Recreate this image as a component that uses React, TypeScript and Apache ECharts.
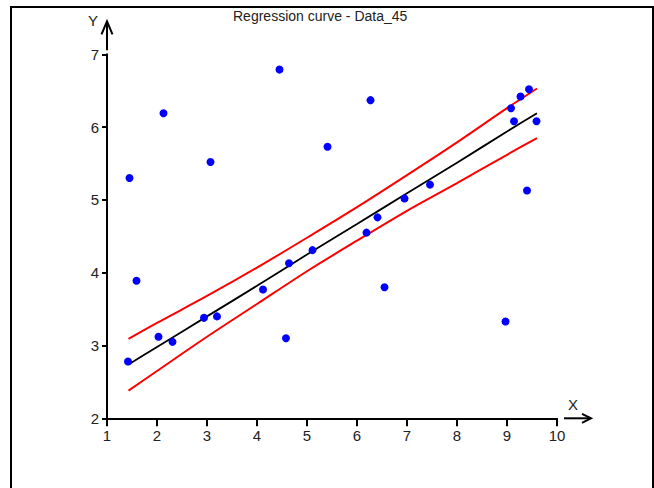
import React, { useEffect, useRef } from "react";
import * as echarts from "echarts";

const titleText = "Regression curve - Data_45";
const xName = "X";
const yName = "Y";

// Observed points
const pointX = [1.42, 1.45, 1.59, 2.03, 2.13, 2.31, 2.94, 3.07, 3.2, 4.12, 4.45, 4.58, 4.64, 5.11, 5.41, 6.19, 6.27, 6.41, 6.55, 6.95, 7.46, 8.97, 9.08, 9.14, 9.27, 9.4, 9.44, 9.59];
const pointY = [2.78, 5.3, 3.89, 3.12, 6.19, 3.05, 3.38, 5.52, 3.4, 3.77, 6.79, 3.1, 4.13, 4.31, 5.73, 4.55, 6.37, 4.76, 3.8, 5.02, 5.21, 3.33, 6.26, 6.08, 6.42, 5.13, 6.52, 6.08];

// Fitted curve and confidence band
const fitX = [1.43, 2, 3, 4, 5, 6, 7, 8, 9, 9.6];
const fitY = [2.74, 2.98, 3.4, 3.82, 4.25, 4.67, 5.09, 5.51, 5.94, 6.19];
const upperY = [3.09, 3.31, 3.68, 4.07, 4.48, 4.9, 5.34, 5.79, 6.26, 6.53];
const lowerY = [2.38, 2.65, 3.12, 3.57, 4.02, 4.44, 4.85, 5.23, 5.62, 5.85];

const xMin = 1, xMax = 10, xStep = 1;
const yMin = 2, yMax = 7, yStep = 1;

const FONT = "'Liberation Sans', Arial, sans-serif";
const TXT = "#222";

export default function App() {
  const ref = useRef<HTMLDivElement>(null);
  useEffect(() => {
    if (!ref.current) return;
    const chart = echarts.init(ref.current, undefined, { renderer: "svg" });
    const zip = (xs: number[], ys: number[]) => xs.map((x, i) => [x, ys[i]]);
    chart.setOption({
      animation: false,
      backgroundColor: "#fff",
      title: {
        text: titleText,
        left: 233,
        top: 9,
        padding: 0,
        textStyle: { fontFamily: FONT, fontSize: 14, fontWeight: "normal", color: TXT },
      },
      grid: { left: 107, right: 97, top: 54.3, bottom: 69.7, containLabel: false },
      xAxis: {
        type: "value",
        min: xMin,
        max: xMax,
        interval: xStep,
        splitLine: { show: false },
        axisLine: { onZero: false, lineStyle: { color: "#000", width: 2 } },
        axisTick: { show: true, length: 8, lineStyle: { color: "#000", width: 2 } },
        axisLabel: { margin: 10, fontFamily: FONT, fontSize: 15, color: TXT },
      },
      yAxis: {
        type: "value",
        min: yMin,
        max: yMax,
        interval: yStep,
        splitLine: { show: false },
        axisLine: { onZero: false, lineStyle: { color: "#000", width: 2 } },
        axisTick: { show: true, length: 5, lineStyle: { color: "#000", width: 2 } },
        axisLabel: { margin: 8, fontFamily: FONT, fontSize: 15, color: TXT },
      },
      series: [
        {
          type: "line",
          name: "upper",
          data: zip(fitX, upperY),
          showSymbol: false,
          smooth: 0.3,
          lineStyle: { color: "#ff0000", width: 2 },
          z: 2,
        },
        {
          type: "line",
          name: "lower",
          data: zip(fitX, lowerY),
          showSymbol: false,
          smooth: 0.3,
          lineStyle: { color: "#ff0000", width: 2 },
          z: 2,
        },
        {
          type: "line",
          name: "fit",
          data: zip(fitX, fitY),
          showSymbol: false,
          smooth: 0.3,
          lineStyle: { color: "#000", width: 1.8 },
          z: 3,
        },
        {
          type: "scatter",
          name: "data",
          data: zip(pointX, pointY),
          symbol: "circle",
          symbolSize: 8,
          itemStyle: { color: "#0000ff", opacity: 1 },
          z: 4,
        },
      ],
    });

    const [ax, ay] = chart.convertToPixel({ gridIndex: 0 }, [xMin, yMax]) as number[];
    const [bx, by] = chart.convertToPixel({ gridIndex: 0 }, [xMax, yMin]) as number[];
    const stroke = { stroke: "#000", lineWidth: 2, fill: "none" };
    chart.setOption({
      graphic: [
        {
          type: "rect",
          shape: { x: 11, y: 7, width: 642, height: 500 },
          style: { stroke: "#000", lineWidth: 2, fill: "none" },
          silent: true,
        },
        { type: "polyline", shape: { points: [[ax, ay - 4], [ax, ay - 33]] }, style: stroke },
        { type: "polyline", shape: { points: [[ax - 5.5, ay - 20], [ax, ay - 33], [ax + 5.5, ay - 20]] }, style: stroke },
        { type: "polyline", shape: { points: [[bx + 7, by], [bx + 34, by]] }, style: stroke },
        { type: "polyline", shape: { points: [[bx + 25, by - 4.5], [bx + 34, by], [bx + 25, by + 4.5]] }, style: stroke },
        {
          type: "text",
          x: ax - 14,
          y: ay - 34,
          style: { text: yName, fontFamily: FONT, fontSize: 15, fill: TXT, align: "center", verticalAlign: "middle" },
        },
        {
          type: "text",
          x: bx + 16,
          y: by - 14,
          style: { text: xName, fontFamily: FONT, fontSize: 15, fill: TXT, align: "center", verticalAlign: "middle" },
        },
      ],
    });
    return () => chart.dispose();
  }, []);
  return (
    <div
      ref={ref}
      style={{ position: "fixed", left: 0, top: 0, width: 654, height: 488, background: "#fff" }}
    />
  );
}
